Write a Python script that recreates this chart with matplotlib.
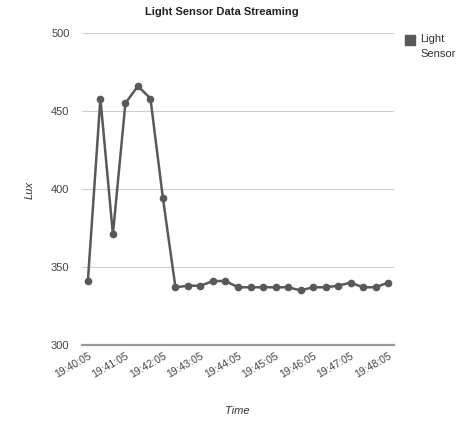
import numpy as np
import matplotlib
matplotlib.use("Agg")
import matplotlib.pyplot as plt
from matplotlib import rcParams

rcParams["font.family"] = ["Liberation Sans", "DejaVu Sans"]

# Data
lux = [341, 458, 371, 455, 466, 458, 394, 337, 338, 338, 341, 341, 337,
       337, 337, 337, 337, 335, 337, 337, 338, 340, 337, 337, 340]
tick_labels = ["19:40:05", "19:41:05", "19:42:05", "19:43:05", "19:44:05",
               "19:45:05", "19:46:05", "19:47:05", "19:48:05"]
tick_idx = [0, 3, 6, 9, 12, 15, 18, 21, 24]
y_ticks = [300, 350, 400, 450, 500]

c = "#595959"

fig = plt.figure(figsize=(4.6, 4.22), dpi=100)
ax = fig.add_axes([82/460, 1-345/422, 312/460, 312/422])

x = np.arange(len(lux))
ax.plot(x, lux, c=c, lw=1.8, marker="o", ms=4.5, zorder=3)

ax.set_xlim(-0.47, 24.47)
ax.set_ylim(300, 500)
ax.set_yticks(y_ticks)
ax.set_yticklabels([str(v) for v in y_ticks], fontsize=8, color="#444444")
ax.set_xticks(tick_idx)
ax.set_xticklabels(tick_labels, rotation=30, ha="right", rotation_mode="anchor",
                   fontsize=7.5, color="#444444")
ax.tick_params(length=0)
ax.tick_params(axis="x", pad=4)
ax.tick_params(axis="y", pad=9)
for yv in y_ticks[1:]:
    ax.axhline(yv, color="#cccccc", lw=0.8, zorder=1)
ax.axhline(300, color="#999999", lw=1.6, zorder=2, clip_on=False)
for s in ax.spines.values():
    s.set_visible(False)

fig.text(222/460, 1-12/422, "Light Sensor Data Streaming", ha="center", va="center",
         fontsize=8, fontweight="bold", color="#222222")
fig.text(30/460, 1-190/422, "Lux", ha="center", va="center", rotation=90,
         fontsize=8, style="italic", color="#333333")
fig.text(237/460, 1-411/422, "Time", ha="center", va="center",
         fontsize=8, style="italic", color="#333333")

# legend
fig.patches.append(plt.Rectangle((405/460, 1-45/422), 10/460, 10/422,
                                 transform=fig.transFigure, color=c, figure=fig))
fig.text(420/460, 1-39/422, "Light", ha="left", va="center", fontsize=8, color="#333333")
fig.text(420/460, 1-54/422, "Sensor", ha="left", va="center", fontsize=8, color="#333333")

plt.savefig("out.png", dpi=100)
